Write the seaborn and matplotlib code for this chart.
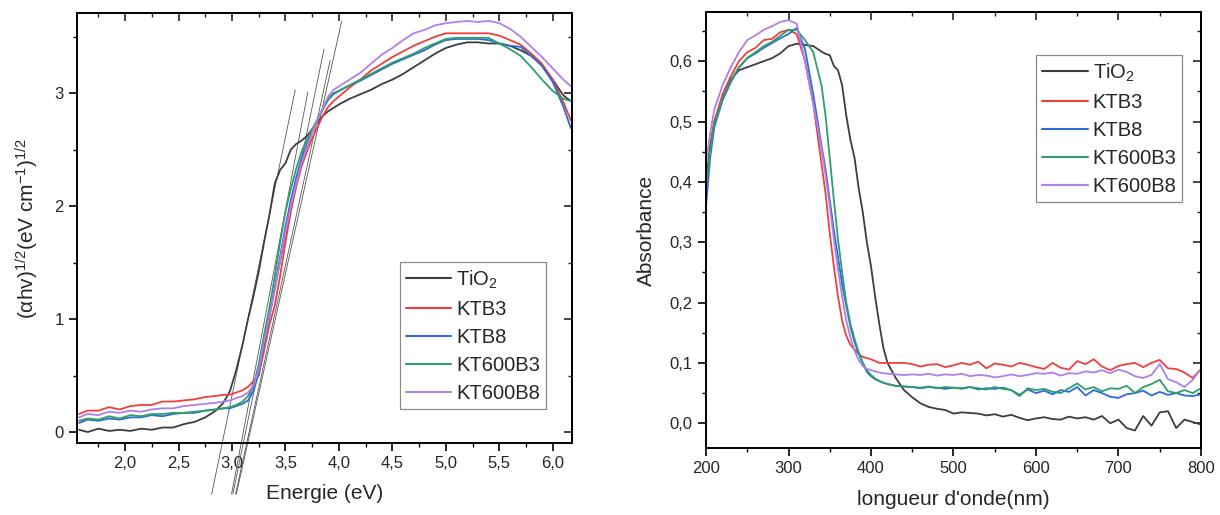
import numpy as np
import pandas as pd
import seaborn as sns
import matplotlib.pyplot as plt
from matplotlib.ticker import MultipleLocator, FuncFormatter

# --- donnees ---
samples = ['TiO$_2$', 'KTB3', 'KTB8', 'KT600B3', 'KT600B8']
colors = ['#3d3d3d', '#ef3f3f', '#2d6bd8', '#2f9e6b', '#b07fe8']

# Tauc (gauche)
energy = [1.57, 1.65, 1.75, 1.85, 1.95, 2.05, 2.15, 2.25, 2.35, 2.45, 2.55, 2.65, 2.75, 2.85,
          2.92, 2.98, 3.04, 3.1, 3.15, 3.2, 3.25, 3.3, 3.35, 3.4, 3.45, 3.5, 3.55, 3.6, 3.65,
          3.7, 3.75, 3.8, 3.85, 3.9, 3.95, 4.0, 4.1, 4.2, 4.3, 4.4, 4.5, 4.6, 4.7, 4.8, 4.9,
          5.0, 5.1, 5.2, 5.3, 5.4, 5.5, 5.6, 5.7, 5.8, 5.9, 6.0, 6.1, 6.17]
tauc_tio2 = [0.02, 0.0, 0.03, 0.01, 0.02, 0.01, 0.03, 0.02, 0.04, 0.04, 0.07, 0.09, 0.13, 0.19,
             0.26, 0.36, 0.55, 0.78, 1.0, 1.2, 1.42, 1.68, 1.92, 2.2, 2.32, 2.38, 2.5, 2.55, 2.58,
             2.62, 2.68, 2.74, 2.8, 2.84, 2.87, 2.9, 2.95, 2.99, 3.03, 3.08, 3.12, 3.17, 3.23, 3.29,
             3.35, 3.4, 3.43, 3.45, 3.45, 3.44, 3.44, 3.42, 3.38, 3.33, 3.25, 3.12, 2.98, 2.93]
tauc_ktb3 = [0.16, 0.19, 0.19, 0.22, 0.2, 0.23, 0.24, 0.24, 0.27, 0.27, 0.28, 0.29, 0.31, 0.32,
             0.33, 0.33, 0.35, 0.37, 0.4, 0.45, 0.5, 0.72, 0.95, 1.12, 1.38, 1.68, 1.95, 2.17, 2.35,
             2.48, 2.6, 2.7, 2.8, 2.88, 2.93, 2.97, 3.05, 3.12, 3.2, 3.26, 3.32, 3.37, 3.42, 3.46,
             3.5, 3.53, 3.53, 3.53, 3.53, 3.53, 3.51, 3.47, 3.43, 3.35, 3.26, 3.12, 2.92, 2.76]
tauc_ktb8 = [0.08, 0.11, 0.1, 0.12, 0.11, 0.13, 0.13, 0.15, 0.14, 0.16, 0.17, 0.17, 0.19, 0.2,
             0.21, 0.21, 0.23, 0.25, 0.28, 0.36, 0.52, 0.78, 1.02, 1.28, 1.55, 1.82, 2.05, 2.25, 2.42,
             2.55, 2.66, 2.76, 2.86, 2.95, 3.0, 3.02, 3.07, 3.11, 3.16, 3.21, 3.26, 3.3, 3.34, 3.38,
             3.43, 3.47, 3.48, 3.48, 3.48, 3.47, 3.44, 3.42, 3.41, 3.33, 3.24, 3.1, 2.88, 2.69]
tauc_kt600b3 = [0.1, 0.12, 0.11, 0.14, 0.12, 0.15, 0.14, 0.16, 0.16, 0.17, 0.17, 0.18, 0.19, 0.2,
                0.21, 0.22, 0.24, 0.27, 0.32, 0.4, 0.6, 0.86, 1.1, 1.38, 1.68, 1.95, 2.15, 2.33, 2.48,
                2.59, 2.68, 2.77, 2.86, 2.94, 2.99, 3.02, 3.07, 3.12, 3.17, 3.22, 3.27, 3.31, 3.35, 3.4,
                3.44, 3.48, 3.49, 3.49, 3.49, 3.49, 3.44, 3.39, 3.33, 3.23, 3.12, 3.02, 2.95, 2.93]
tauc_kt600b8 = [0.13, 0.16, 0.15, 0.18, 0.17, 0.19, 0.18, 0.2, 0.21, 0.21, 0.23, 0.24, 0.25, 0.26,
                0.27, 0.28, 0.3, 0.32, 0.35, 0.41, 0.55, 0.8, 1.03, 1.25, 1.52, 1.78, 2.0, 2.2, 2.38,
                2.52, 2.65, 2.76, 2.87, 2.97, 3.03, 3.06, 3.12, 3.18, 3.26, 3.34, 3.4, 3.47, 3.53, 3.56,
                3.6, 3.62, 3.63, 3.64, 3.63, 3.64, 3.62, 3.57, 3.5, 3.41, 3.32, 3.22, 3.12, 3.06]

# droites de Tauc (gap, pente, hauteur max)
tangent_eg = [2.93, 3.106, 3.127, 3.16, 3.17]
tangent_slope = [4.58, 4.99, 4.62, 4.34, 4.25]
tangent_top = [3.03, 3.01, 3.39, 3.29, 3.64]
tangent_bottom = -0.55

# Absorbance (droite)
wavelength = [200, 205, 210, 220, 230, 240, 250, 260, 270, 280, 290, 300, 310, 320, 330, 340,
              345, 350, 355, 360, 365, 370, 375, 380, 385, 390, 395, 400, 405, 410, 415,
              420, 430, 440, 450, 460, 470, 480, 490, 500, 510, 520, 530, 540, 550, 560, 570,
              580, 590, 600, 610, 620, 630, 640, 650, 660, 670, 680, 690, 700, 710, 720, 730,
              740, 750, 760, 770, 780, 790, 800]
abs_tio2 = [0.40, 0.46, 0.5, 0.54, 0.57, 0.585, 0.59, 0.595, 0.6, 0.605, 0.613, 0.625, 0.629, 0.627,
            0.625, 0.616, 0.612, 0.61, 0.592, 0.585, 0.56, 0.51, 0.47, 0.44, 0.39, 0.35, 0.3, 0.26,
            0.21, 0.165, 0.125, 0.1, 0.075, 0.055, 0.043, 0.033, 0.027, 0.024, 0.022, 0.016, 0.018,
            0.017, 0.016, 0.013, 0.015, 0.011, 0.014, 0.009, 0.005, 0.008, 0.01, 0.007, 0.006, 0.011,
            0.008, 0.01, 0.006, 0.012, 0.0, 0.006, -0.008, -0.012, 0.012, -0.004, 0.018, 0.02,
            -0.008, 0.006, 0.002, -0.002]
abs_ktb3 = [0.38, 0.45, 0.5, 0.545, 0.575, 0.6, 0.615, 0.622, 0.635, 0.637, 0.648, 0.652, 0.645, 0.6,
            0.53, 0.43, 0.38, 0.315, 0.26, 0.21, 0.17, 0.145, 0.13, 0.122, 0.115, 0.11, 0.108, 0.106,
            0.103, 0.1, 0.1, 0.1, 0.1, 0.1, 0.098, 0.094, 0.097, 0.098, 0.093, 0.096, 0.1, 0.097,
            0.102, 0.091, 0.099, 0.097, 0.094, 0.1, 0.097, 0.093, 0.09, 0.1, 0.092, 0.089, 0.103,
            0.098, 0.106, 0.094, 0.088, 0.095, 0.098, 0.1, 0.093, 0.1, 0.105, 0.091, 0.09, 0.084,
            0.075, 0.09]
abs_ktb8 = [0.36, 0.44, 0.49, 0.535, 0.565, 0.59, 0.605, 0.613, 0.622, 0.63, 0.638, 0.645, 0.655, 0.62,
            0.545, 0.46, 0.42, 0.37, 0.32, 0.275, 0.23, 0.195, 0.16, 0.135, 0.115, 0.1, 0.085, 0.078,
            0.073, 0.07, 0.067, 0.065, 0.062, 0.061, 0.06, 0.058, 0.06, 0.059, 0.057, 0.059, 0.058,
            0.06, 0.056, 0.058, 0.057, 0.059, 0.055, 0.047, 0.056, 0.05, 0.054, 0.048, 0.055, 0.052,
            0.06, 0.046, 0.055, 0.05, 0.044, 0.042, 0.048, 0.05, 0.054, 0.046, 0.052, 0.047, 0.05,
            0.046, 0.045, 0.048]
abs_kt600b3 = [0.39, 0.45, 0.495, 0.538, 0.568, 0.59, 0.605, 0.615, 0.625, 0.632, 0.642, 0.652, 0.652,
               0.635, 0.615, 0.56, 0.508, 0.44, 0.37, 0.305, 0.25, 0.2, 0.165, 0.14, 0.118, 0.1, 0.088,
               0.08, 0.074, 0.07, 0.067, 0.065, 0.062, 0.061, 0.06, 0.059, 0.061, 0.058, 0.06, 0.059,
               0.057, 0.06, 0.058, 0.056, 0.06, 0.057, 0.055, 0.045, 0.058, 0.055, 0.057, 0.052, 0.05,
               0.058, 0.066, 0.056, 0.06, 0.053, 0.058, 0.057, 0.062, 0.05, 0.06, 0.065, 0.072, 0.053,
               0.05, 0.055, 0.05, 0.058]
abs_kt600b8 = [0.43, 0.48, 0.52, 0.56, 0.59, 0.615, 0.635, 0.643, 0.652, 0.658, 0.665, 0.668, 0.662,
               0.6, 0.53, 0.455, 0.41, 0.36, 0.305, 0.255, 0.21, 0.17, 0.143, 0.12, 0.105, 0.095, 0.09,
               0.088, 0.086, 0.084, 0.083, 0.082, 0.081, 0.08, 0.081, 0.08, 0.082, 0.079, 0.081, 0.08,
               0.082, 0.078, 0.08, 0.079, 0.076, 0.078, 0.081, 0.078, 0.08, 0.083, 0.082, 0.084, 0.079,
               0.083, 0.082, 0.086, 0.084, 0.088, 0.083, 0.089, 0.085, 0.078, 0.075, 0.08, 0.098, 0.073,
               0.068, 0.06, 0.072, 0.09]

tauc = pd.DataFrame({'E': energy * 5,
                     'y': tauc_tio2 + tauc_ktb3 + tauc_ktb8 + tauc_kt600b3 + tauc_kt600b8,
                     'sample': np.repeat(samples, len(energy))})
absorb = pd.DataFrame({'wl': wavelength * 5,
                       'A': abs_tio2 + abs_ktb3 + abs_ktb8 + abs_kt600b3 + abs_kt600b8,
                       'sample': np.repeat(samples, len(wavelength))})

sns.set_style('ticks')
plt.rcParams['font.family'] = ['Liberation Sans', 'DejaVu Sans']
plt.rcParams['mathtext.fontset'] = 'custom'
plt.rcParams['mathtext.rm'] = 'Liberation Sans'
plt.rcParams['mathtext.it'] = 'Liberation Sans:italic'
plt.rcParams['axes.linewidth'] = 1.4
plt.rcParams['axes.edgecolor'] = 'black'

fig = plt.figure(figsize=(12.2, 5.15), dpi=100)
ax1 = fig.add_axes([0.0631, 0.1398, 0.4057, 0.8350])
ax2 = fig.add_axes([0.5787, 0.1301, 0.4057, 0.8460])

palette = dict(zip(samples, colors))
sns.lineplot(data=tauc, x='E', y='y', hue='sample', palette=palette, sort=False,
             estimator=None, lw=1.3, ax=ax1)
sns.lineplot(data=absorb, x='wl', y='A', hue='sample', palette=palette, sort=False,
             estimator=None, lw=1.3, ax=ax2)

# droites tangentes
for eg, s, top in zip(tangent_eg, tangent_slope, tangent_top):
    vv = np.array([tangent_bottom, top])
    ax1.plot(eg + vv / s, vv, color='#555555', lw=0.6, clip_on=False, zorder=1)

comma = FuncFormatter(lambda v, p: f'{v:.1f}'.replace('.', ','))

ax1.set_xlim(1.55, 6.18)
ax1.set_ylim(-0.097, 3.71)
ax1.xaxis.set_major_locator(MultipleLocator(0.5))
ax1.xaxis.set_minor_locator(MultipleLocator(0.25))
ax1.yaxis.set_major_locator(MultipleLocator(1))
ax1.yaxis.set_minor_locator(MultipleLocator(0.5))
ax1.xaxis.set_major_formatter(comma)
ax1.yaxis.set_major_formatter(FuncFormatter(lambda v, p: f'{v:.0f}'))
ax1.set_xlabel('Energie (eV)', fontsize=15, labelpad=9)
ax1.set_ylabel('(αhv)$^{1/2}$(eV cm$^{-1}$)$^{1/2}$', fontsize=15, labelpad=10)

ax2.set_xlim(200, 800)
ax2.set_ylim(-0.041, 0.681)
ax2.xaxis.set_major_locator(MultipleLocator(100))
ax2.xaxis.set_minor_locator(MultipleLocator(50))
ax2.yaxis.set_major_locator(MultipleLocator(0.1))
ax2.yaxis.set_minor_locator(MultipleLocator(0.05))
ax2.yaxis.set_major_formatter(comma)
ax2.set_xlabel("longueur d'onde(nm)", fontsize=15, labelpad=10)
ax2.set_ylabel('Absorbance', fontsize=15, labelpad=10)

for ax in (ax1, ax2):
    for sp in ax.spines.values():
        sp.set_visible(True)
        sp.set_color('black')
        sp.set_linewidth(1.4)
    ax.tick_params(which='major', direction='out', length=6, width=1.2, labelsize=12, color='black')
    ax.tick_params(which='minor', direction='out', length=3, width=1.0, color='black')
    top = ax.secondary_xaxis('top')
    top.set_xticks(ax.get_xticks())
    top.xaxis.set_minor_locator(ax.xaxis.get_minor_locator())
    top.tick_params(which='major', direction='in', length=6, width=1.2, labeltop=False)
    top.tick_params(which='minor', direction='in', length=3, width=1.0)
    right = ax.secondary_yaxis('right')
    right.set_yticks(ax.get_yticks())
    right.yaxis.set_minor_locator(ax.yaxis.get_minor_locator())
    right.tick_params(which='major', direction='in', length=6, width=1.2, labelright=False)
    right.tick_params(which='minor', direction='in', length=3, width=1.0)

leg_kw = dict(fontsize=14.5, frameon=True, fancybox=False, framealpha=1, edgecolor='#8a8a8a',
              handlelength=2.25, handletextpad=0.25, borderpad=0.3, labelspacing=0.45,
              borderaxespad=0, loc='lower left')
h1, l1 = ax1.get_legend_handles_labels()
leg1 = ax1.legend(h1, l1, bbox_to_anchor=(0.6525, 0.079), **leg_kw)
h2, l2 = ax2.get_legend_handles_labels()
leg2 = ax2.legend(h2, l2, bbox_to_anchor=(0.667, 0.565), **leg_kw)
for leg in (leg1, leg2):
    leg.get_frame().set_linewidth(0.9)
    for line in leg.get_lines():
        line.set_linewidth(1.5)

fig.savefig('out.png', dpi=100)
